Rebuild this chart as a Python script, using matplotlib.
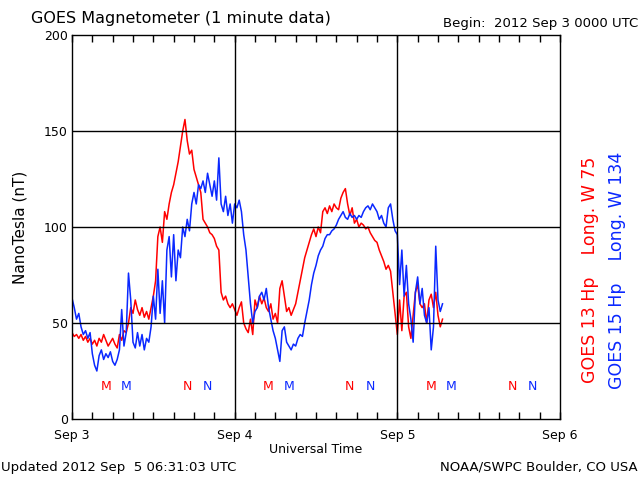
import numpy as np
import matplotlib
matplotlib.use("Agg")
import matplotlib.pyplot as plt

# GOES 13 Hp, nT, one value every 20 minutes from 2012 Sep 3 0000 UTC
goes13 = [
    45, 43, 44, 42, 44, 41, 43, 40, 42, 39, 41, 38,
    42, 40, 44, 41, 38, 40, 42, 39, 37, 44, 41, 46,
    45, 50, 58, 55, 62, 57, 54, 58, 53, 56, 52, 58,
    64, 72, 95, 100, 92, 108, 104, 112, 118, 122, 128, 134,
    142, 150, 156, 145, 138, 140, 130, 126, 122, 118, 104, 102,
    100, 97, 96, 94, 90, 88, 66, 62, 64, 60, 58, 60,
    57, 54, 58, 61, 50, 47, 45, 52, 44, 62, 58, 64,
    60, 63, 58, 56, 60, 52, 55, 50, 68, 72, 64, 56,
    58, 54, 57, 60, 66, 72, 78, 84, 88, 92, 96, 99,
    95, 100, 97, 108, 110, 107, 111, 108, 112, 110, 109, 115,
    118, 120, 112, 106, 110, 102, 104, 100, 102, 101, 99, 100,
    97, 95, 93, 92, 88, 85, 82, 78, 80, 77, 66, 55,
    44, 62, 46, 64, 66, 48, 42, 54, 66, 70, 60, 58,
    60, 50, 62, 65, 58, 66, 54, 48, 52,
]

# GOES 15 Hp, same time steps
goes15 = [
    63, 58, 52, 55, 48, 44, 46, 42, 45, 34, 28, 25,
    33, 36, 31, 34, 32, 35, 30, 28, 31, 36, 57, 38,
    45, 76, 62, 40, 37, 45, 38, 44, 36, 42, 40, 48,
    64, 52, 78, 55, 72, 50, 88, 95, 74, 96, 72, 88,
    84, 100, 95, 104, 98, 112, 118, 112, 122, 120, 124, 118,
    128, 122, 116, 124, 114, 136, 112, 108, 116, 106, 112, 102,
    112, 110, 114, 108, 96, 88, 74, 60, 50, 56, 58, 64,
    66, 62, 68, 58, 52, 46, 42, 36, 30, 46, 48, 40,
    38, 36, 39, 38, 42, 44, 43, 50, 56, 62, 70, 76,
    80, 85, 88, 90, 94, 96, 96, 98, 99, 101, 104, 106,
    108, 105, 104, 107, 105, 106, 104, 106, 105, 108, 110, 111,
    109, 112, 110, 108, 104, 106, 102, 100, 110, 112, 104, 98,
    96, 70, 88, 64, 80, 60, 52, 40, 66, 74, 60, 68,
    54, 50, 58, 36, 48, 90, 62, 56, 60,
]

# local midnight (M) and noon (N) markers, hours after Sep 3 0000 UTC
marks13 = [5, 17, 29, 41, 53, 65]
marks15 = [8, 20, 32, 44, 56, 68]
mark_text = ["M", "N", "M", "N", "M", "N"]

day_labels = ["Sep 3", "Sep 4", "Sep 5", "Sep 6"]

RED = "#ff0000"
BLUE = "#0a28ff"

hours13 = np.arange(len(goes13)) / 3.0
hours15 = np.arange(len(goes15)) / 3.0

fig = plt.figure(figsize=(6.4, 4.8), dpi=100)
ax = fig.add_axes([72 / 640, 61 / 480, 488 / 640, 384 / 480])

ax.plot(hours13, goes13, color=RED, lw=1.1)
ax.plot(hours15, goes15, color=BLUE, lw=1.1)

for h, t in zip(marks13, mark_text):
    ax.text(h, 17, t, color=RED, ha="center", va="center", fontsize=9)
for h, t in zip(marks15, mark_text):
    ax.text(h, 17, t, color=BLUE, ha="center", va="center", fontsize=9)

# grid
for v in [50, 100, 150]:
    ax.axhline(v, color="black", lw=1)
for d in [24, 48]:
    ax.axvline(d, color="black", lw=1)

ax.set_xlim(0, 72)
ax.set_ylim(0, 200)
ax.set_xticks([0, 24, 48, 72])
ax.set_xticklabels(day_labels, fontsize=9)
ax.set_xticks(np.arange(3, 72, 3), minor=True)
ax.set_yticks([0, 50, 100, 150, 200])
ax.tick_params(axis="x", which="both", direction="in", top=True, length=5, width=1, pad=7)
ax.tick_params(axis="y", which="both", length=0, pad=3, labelsize=9)
for s in ax.spines.values():
    s.set_linewidth(1)

ax.set_ylabel("NanoTesla (nT)", fontsize=11, labelpad=12)
ax.set_xlabel("Universal Time", fontsize=9, labelpad=1)

fig.text(31 / 640, 1 - 18 / 480, "GOES Magnetometer (1 minute data)", fontsize=11.5, va="center")
fig.text(638 / 640, 1 - 24 / 480, "Begin:  2012 Sep 3 0000 UTC", fontsize=9.5, ha="right", va="center")
fig.text(1 / 640, 1 - 467 / 480, "Updated 2012 Sep  5 06:31:03 UTC", fontsize=9.5, va="center")
fig.text(638 / 640, 1 - 467 / 480, "NOAA/SWPC Boulder, CO USA", fontsize=9.5, ha="right", va="center")

fig.text(590 / 640, 1 - 270 / 480, "GOES 13 Hp    Long. W 75", color=RED, fontsize=12.5,
         rotation=90, ha="center", va="center")
fig.text(617 / 640, 1 - 270 / 480, "GOES 15 Hp    Long. W 134", color=BLUE, fontsize=12.5,
         rotation=90, ha="center", va="center")

fig.savefig("out.png", dpi=100)
